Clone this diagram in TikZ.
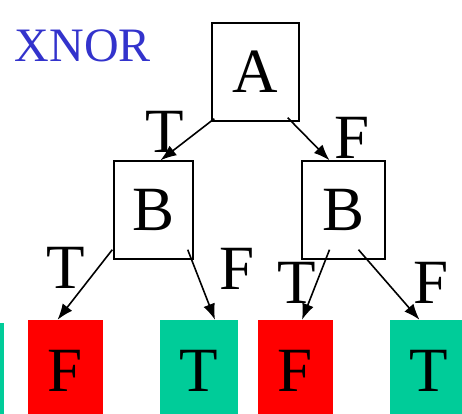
\documentclass[tikz,border=0pt]{standalone}
\usepackage{fontspec}
\setmainfont{Liberation Serif}
\usetikzlibrary{arrows.meta,calc}
\definecolor{teal}{HTML}{00CC99}
\definecolor{xblue}{HTML}{3333CC}
\begin{document}
\begin{tikzpicture}[x=1pt,y=-1pt,
  big/.style={font=\fontsize{63}{63}\selectfont, inner sep=0pt},
  decbox/.style={big, draw=black, line width=1.4pt},
  leafF/.style={big, fill=red},
  leafT/.style={big, fill=teal},
  edge/.style={line width=1.6pt, -{Latex[length=16pt,width=12pt]}},
  lbl/.style={big}]
\useasboundingbox (0,0) rectangle (462,413);
\clip (0,0) rectangle (462,413);
\node[font=\fontsize{48}{48}\selectfont, text=xblue, inner sep=0pt] (title) at (83,46) {XNOR};
\node[decbox, minimum width=87pt, minimum height=98pt] (A) at (255.5,72) {A};
\node[decbox, minimum width=79pt, minimum height=98pt] (Bl) at (153.5,210) {B};
\node[decbox, minimum width=83pt, minimum height=98pt] (Br) at (343.5,210) {B};
\fill[teal] (-80,323) rectangle (4,425);
\node[leafF, minimum width=75pt, minimum height=102pt] (F1) at (65.5,371) {F};
\node[leafT, minimum width=78pt, minimum height=102pt] (T1) at (199,371) {T};
\node[leafF, minimum width=75pt, minimum height=102pt] (F2) at (295.5,371) {F};
\node[leafT, minimum width=77pt, minimum height=102pt] (T2) at (428.5,371) {T};
\draw[edge] ($(A.south west)+(3,-3)$) -- ($(Bl.north)+(7,0)$);
\draw[edge] ($(A.south east)+(-12,-4)$) -- ($(Br.north)+(-14,0)$);
\draw[edge] ($(Bl.south west)+(-1,-10)$) -- ($(F1.north)+(-8,0)$);
\draw[edge] ($(Bl.south east)+(-6,-10)$) -- ($(T1.north)+(16,0)$);
\draw[edge] ($(Br.south)+(-14,-10)$) -- ($(F2.north)+(6.5,0)$);
\draw[edge] ($(Br.south)+(15,-10)$) -- ($(T2.north)+(-9,0)$);
\node[lbl] (l1) at (165,132) {T};
\node[lbl] (l2) at (352,138) {F};
\node[lbl] (l3) at (66,268) {T};
\node[lbl] (l4) at (237,269) {F};
\node[lbl] (l5) at (297,283) {T};
\node[lbl] (l6) at (431,283) {F};
\end{tikzpicture}
\end{document}
